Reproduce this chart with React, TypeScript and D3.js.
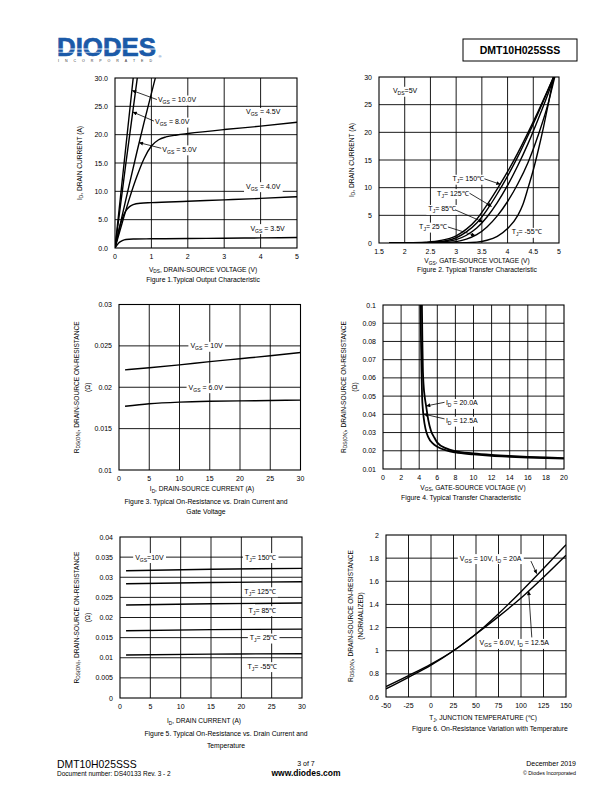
import React, { useLayoutEffect, useRef, useState } from "react";
import * as d3 from "d3";

// ---------- Figure 1: I_D vs V_DS ----------
const fig1XTicks = [0, 1, 2, 3, 4, 5];
const fig1YTicks = [0, 5, 10, 15, 20, 25, 30];
const fig1Vgs10 = [[0, 0], [0.1, 6], [0.2, 12], [0.3, 18], [0.4, 24], [0.5, 30]];
const fig1Vgs8 = [[0, 0], [0.1, 5], [0.2, 10], [0.3, 15], [0.4, 19.8], [0.5, 24.6], [0.6, 29.4], [0.62, 30.4]];
const fig1Vgs5 = [[0, 0], [0.2, 5.8], [0.4, 11.4], [0.6, 16.9], [0.8, 22.2], [1.0, 27.3], [1.1, 29.8], [1.12, 30.3]];
const fig1Vgs45 = [[0, 0], [0.2, 4.5], [0.4, 8.8], [0.6, 12.6], [0.8, 15.8], [1.0, 18.0], [1.2, 19.1], [1.4, 19.6], [1.7, 19.95], [2, 20.2], [3, 20.9], [4, 21.5], [5, 22.2]];
const fig1Vgs4 = [[0, 0], [0.1, 3], [0.2, 5.2], [0.3, 6.6], [0.4, 7.3], [0.5, 7.65], [0.7, 7.9], [1, 8.0], [2, 8.25], [3, 8.5], [4, 8.75], [5, 9.05]];
const fig1Vgs35 = [[0, 0], [0.1, 0.9], [0.2, 1.3], [0.3, 1.5], [0.5, 1.58], [1, 1.62], [2, 1.67], [3, 1.72], [4, 1.78], [5, 1.85]];

// ---------- Figure 2: I_D vs V_GS ----------
const fig2XTicks = [1.5, 2, 2.5, 3, 3.5, 4, 4.5, 5];
const fig2YTicks = [0, 5, 10, 15, 20, 25, 30];
const fig2T150 = [[1.7, 0], [2.0, 0.03], [2.4, 0.15], [2.7, 0.45], [3.0, 1.3], [3.2, 2.5], [3.4, 4.3], [3.6, 6.9], [3.8, 9.8], [4.0, 12.9], [4.2, 16.3], [4.4, 20.0], [4.6, 23.9], [4.8, 28.0], [4.9, 30.1]];
const fig2T125 = [[1.7, 0], [2.1, 0.02], [2.5, 0.12], [2.8, 0.4], [3.0, 0.95], [3.2, 2.0], [3.4, 3.6], [3.6, 6.0], [3.8, 8.9], [4.0, 12.1], [4.2, 15.6], [4.4, 19.5], [4.6, 23.6], [4.8, 27.9], [4.9, 30.1]];
const fig2T85 = [[1.7, 0], [2.3, 0.02], [2.7, 0.15], [3.0, 0.6], [3.2, 1.4], [3.4, 2.7], [3.6, 4.7], [3.8, 7.3], [4.0, 10.4], [4.2, 14.0], [4.4, 18.0], [4.6, 22.5], [4.8, 27.3], [4.9, 29.9]];
const fig2T25 = [[1.7, 0], [2.6, 0.02], [3.0, 0.25], [3.2, 0.7], [3.4, 1.5], [3.6, 2.9], [3.8, 4.9], [4.0, 7.5], [4.2, 10.7], [4.4, 14.6], [4.6, 19.6], [4.8, 25.6], [4.88, 28.6], [4.92, 30.1]];
const fig2Tm55 = [[1.7, 0], [3.0, 0.01], [3.4, 0.15], [3.6, 0.5], [3.8, 1.2], [4.0, 2.6], [4.2, 5.0], [4.3, 7.0], [4.4, 10.0], [4.5, 13.2], [4.6, 16.9], [4.7, 21.0], [4.8, 25.5], [4.9, 30.3]];

// ---------- Figure 3: R_DS(on) vs I_D ----------
const fig3XTicks = [0, 5, 10, 15, 20, 25, 30];
const fig3YTicks = [0.01, 0.015, 0.02, 0.025, 0.03];
const fig3Id = [1, 5, 10, 15, 20, 25, 30];
const fig3Vgs10 = [0.0221, 0.02235, 0.0227, 0.0231, 0.02345, 0.0238, 0.0242];
const fig3Vgs6 = [0.0177, 0.018, 0.0182, 0.0183, 0.01835, 0.0184, 0.01845];

// ---------- Figure 4: R_DS(on) vs V_GS ----------
const fig4XTicks = [0, 2, 4, 6, 8, 10, 12, 14, 16, 18, 20];
const fig4YTicks = [0.01, 0.02, 0.03, 0.04, 0.05, 0.06, 0.07, 0.08, 0.09, 0.1];
const fig4Id20 = [[4.3, 0.1], [4.35, 0.08], [4.4, 0.066], [4.5, 0.055], [4.6, 0.05], [4.75, 0.045], [5, 0.037], [5.3, 0.031], [5.7, 0.027], [6, 0.0245], [7, 0.0213], [8, 0.0198], [10, 0.0186], [12, 0.0178], [14, 0.0172], [16, 0.0167], [18, 0.0163], [20, 0.016]];
const fig4Id125 = [[4.15, 0.1], [4.2, 0.08], [4.26, 0.063], [4.32, 0.05], [4.4, 0.043], [4.5, 0.038], [4.7, 0.032], [5, 0.0275], [5.5, 0.024], [6, 0.0222], [7, 0.0202], [8, 0.0191], [10, 0.018], [12, 0.0172], [14, 0.0167], [16, 0.0163], [18, 0.016], [20, 0.0157]];

// ---------- Figure 5: R_DS(on) vs I_D over temperature ----------
const fig5XTicks = [0, 5, 10, 15, 20, 25, 30];
const fig5YTicks = [0, 0.005, 0.01, 0.015, 0.02, 0.025, 0.03, 0.035, 0.04];
const fig5Id = [1, 15, 30];
const fig5T150 = [0.0316, 0.032, 0.0322];
const fig5T125 = [0.0284, 0.0287, 0.0289];
const fig5T85 = [0.0231, 0.0234, 0.0236];
const fig5T25 = [0.0167, 0.017, 0.0171];
const fig5Tm55 = [0.0107, 0.0109, 0.011];

// ---------- Figure 6: normalized R_DS(on) vs T_J ----------
const fig6XTicks = [-50, -25, 0, 25, 50, 75, 100, 125, 150];
const fig6YTicks = [0.6, 0.8, 1, 1.2, 1.4, 1.6, 1.8, 2];
const fig6Tj = [-50, -25, 0, 25, 50, 75, 100, 125, 150];
const fig6Vgs10 = [0.67, 0.77, 0.875, 1.0, 1.145, 1.32, 1.51, 1.71, 1.915];
const fig6Vgs6 = [0.69, 0.785, 0.885, 1.0, 1.145, 1.295, 1.455, 1.635, 1.825];

const FONT = "'Liberation Sans', Arial, Helvetica, sans-serif";
const zip = (xs: number[], ys: number[]) => xs.map((x, i) => [x, ys[i]]);

// "V_{GS} = 10V" -> text with subscript tspans
function rich(text: string, fs: number) {
  const parts = text.split(/(_\{[^}]*\})/).filter(Boolean);
  let shifted = false;
  return parts.map((p, i) => {
    if (p.startsWith("_{")) {
      shifted = true;
      return (
        <tspan key={i} fontSize={fs * 0.72} dy={fs * 0.28}>
          {p.slice(2, -1)}
        </tspan>
      );
    }
    const dy = shifted ? -fs * 0.28 : 0;
    shifted = false;
    return (
      <tspan key={i} dy={dy}>
        {p}
      </tspan>
    );
  });
}

function Label({ x, y, text, fs = 7, bg = true }: any) {
  const ref = useRef<SVGTextElement>(null);
  const [box, setBox] = useState<any>(null);
  useLayoutEffect(() => {
    if (bg && ref.current) {
      const b = ref.current.getBBox();
      setBox({ x: b.x - 2, y: b.y - 0.5, w: b.width + 4, h: b.height + 1 });
    }
  }, [x, y, text, fs, bg]);
  return (
    <g>
      {bg && box && <rect x={box.x} y={box.y} width={box.w} height={box.h} fill="#fff" />}
      <text ref={ref} x={x} y={y + fs * 0.35} fontSize={fs} fontFamily={FONT} fill="#000">
        {rich(text, fs)}
      </text>
    </g>
  );
}

function Chart({ cfg, id }: any) {
  const { box, xDomain, yDomain, xTicks, yTicks, yFmt, series, labels } = cfg;
  const xs = d3.scaleLinear().domain(xDomain).range([box.x, box.x + box.w]);
  const ys = d3.scaleLinear().domain(yDomain).range([box.y + box.h, box.y]);
  const line = d3
    .line<number[]>()
    .x((d) => xs(d[0]))
    .y((d) => ys(d[1]))
    .curve(d3.curveMonotoneX);
  const clip = "clip-" + id;
  const inner = (t: number[]) => t.slice(1, -1);
  const cy = box.y + box.h / 2;
  return (
    <g>
      <defs>
        <clipPath id={clip}>
          <rect x={box.x} y={box.y} width={box.w} height={box.h} />
        </clipPath>
      </defs>
      <rect x={box.x} y={box.y} width={box.w} height={box.h} fill="#fff" />
      {inner(xTicks).map((t: number) => (
        <line key={"gx" + t} x1={xs(t)} x2={xs(t)} y1={box.y} y2={box.y + box.h} stroke="#000" strokeWidth={0.9} />
      ))}
      {inner(yTicks).map((t: number) => (
        <line key={"gy" + t} x1={box.x} x2={box.x + box.w} y1={ys(t)} y2={ys(t)} stroke="#000" strokeWidth={0.9} />
      ))}
      {labels.map((l: any, i: number) => (
        <Label key={"l" + i} x={xs(l.x)} y={ys(l.y)} text={l.text} bg={l.bg !== false} />
      ))}
      <g clipPath={`url(#${clip})`}>
        {series.map((s: number[][], i: number) => (
          <path key={"s" + i} d={line(s) || ""} fill="none" stroke="#000" strokeWidth={cfg.lw || 1.4} />
        ))}
      </g>
      {labels
        .filter((l: any) => l.arrow)
        .map((l: any, i: number) => (
          <line
            key={"a" + i}
            x1={xs(l.arrow[0])}
            y1={ys(l.arrow[1])}
            x2={xs(l.arrow[2])}
            y2={ys(l.arrow[3])}
            stroke="#000"
            strokeWidth={0.8}
            markerEnd="url(#arrowhead)"
          />
        ))}
      <rect x={box.x} y={box.y} width={box.w} height={box.h} fill="none" stroke="#000" strokeWidth={1.1} />
      {xTicks.map((t: number) => (
        <text key={"tx" + t} x={xs(t)} y={box.y + box.h + 11} fontSize={7} fontFamily={FONT} textAnchor="middle">
          {String(t)}
        </text>
      ))}
      {yTicks.map((t: number) => (
        <text key={"ty" + t} x={box.x - 7} y={ys(t) + 2.5} fontSize={7} fontFamily={FONT} textAnchor="end">
          {yFmt ? yFmt(t) : String(t)}
        </text>
      ))}
      {cfg.yTitle.map((s: string, i: number) => (
        <text
          key={"yt" + i}
          transform={`translate(${cfg.yTitleX[i]},${cy}) rotate(-90)`}
          fontSize={6.6}
          fontFamily={FONT}
          textAnchor="middle"
          dominantBaseline="middle"
        >
          {rich(s, 6.6)}
        </text>
      ))}
      <text x={cfg.xTitlePos[0]} y={cfg.xTitlePos[1]} fontSize={6.6} fontFamily={FONT} textAnchor="middle">
        {rich(cfg.xTitle, 6.6)}
      </text>
      {cfg.caption.map((s: string, i: number) => (
        <text key={"c" + i} x={cfg.captionX} y={cfg.captionY[i]} fontSize={6.8} fontFamily={FONT} textAnchor="middle">
          {s}
        </text>
      ))}
    </g>
  );
}

const RDS = "R_{DS(ON)}, DRAIN-SOURCE ON-RESISTANCE";

const charts = [
  {
    box: { x: 115, y: 78, w: 182, h: 170 },
    xDomain: [0, 5], yDomain: [0, 30], xTicks: fig1XTicks, yTicks: fig1YTicks,
    yFmt: d3.format(".1f"),
    series: [fig1Vgs10, fig1Vgs8, fig1Vgs5, fig1Vgs45, fig1Vgs4, fig1Vgs35],
    labels: [
      { text: "V_{GS} = 10.0V", x: 1.18, y: 26.2, arrow: [1.15, 26.2, 0.47, 27.8] },
      { text: "V_{GS} = 8.0V", x: 1.1, y: 22.3, arrow: [1.07, 22.4, 0.49, 24.0] },
      { text: "V_{GS} = 5.0V", x: 1.3, y: 17.4, arrow: [1.27, 17.6, 0.66, 18.6] },
      { text: "V_{GS} = 4.5V", x: 3.6, y: 24.0 },
      { text: "V_{GS} = 4.0V", x: 3.6, y: 10.9 },
      { text: "V_{GS} = 3.5V", x: 3.72, y: 3.5 },
    ],
    yTitle: ["I_{D}, DRAIN CURRENT (A)"], yTitleX: [80],
    xTitle: "V_{DS}, DRAIN-SOURCE VOLTAGE (V)", xTitlePos: [203, 271.5],
    caption: ["Figure 1.Typical Output Characteristic"], captionX: 203, captionY: [281.5],
  },
  {
    box: { x: 379, y: 77, w: 180, h: 166 },
    xDomain: [1.5, 5], yDomain: [0, 30], xTicks: fig2XTicks, yTicks: fig2YTicks,
    series: [fig2T150, fig2T125, fig2T85, fig2T25, fig2Tm55],
    labels: [
      { text: "V_{DS}=5V", x: 1.77, y: 27.5 },
      { text: "T_{J}= 150℃", x: 2.93, y: 11.6, arrow: [3.55, 11.6, 3.86, 10.6] },
      { text: "T_{J}= 125℃", x: 2.63, y: 9.0, arrow: [3.26, 9.0, 3.69, 6.6] },
      { text: "T_{J}= 85℃", x: 2.46, y: 6.15, arrow: [2.98, 6.0, 3.52, 3.8] },
      { text: "T_{J}= 25℃", x: 2.28, y: 2.95, arrow: [2.84, 2.9, 3.37, 1.35] },
      { text: "T_{J}= -55℃", x: 4.08, y: 2.0 },
    ],
    yTitle: ["I_{D}, DRAIN CURRENT (A)"], yTitleX: [352],
    xTitle: "V_{GS}, GATE-SOURCE VOLTAGE (V)", xTitlePos: [477, 263],
    caption: ["Figure 2. Typical Transfer Characteristic"], captionX: 477, captionY: [271.5],
  },
  {
    box: { x: 119, y: 304.5, w: 181.5, h: 165.5 },
    xDomain: [0, 30], yDomain: [0.01, 0.03], xTicks: fig3XTicks, yTicks: fig3YTicks,
    series: [zip(fig3Id, fig3Vgs10), zip(fig3Id, fig3Vgs6)],
    labels: [
      { text: "V_{GS} = 10V", x: 11.8, y: 0.025 },
      { text: "V_{GS} = 6.0V", x: 11.5, y: 0.02 },
    ],
    yTitle: [RDS, "(Ω)"], yTitleX: [77, 88],
    xTitle: "I_{D}, DRAIN-SOURCE CURRENT (A)", xTitlePos: [202, 491],
    caption: ["Figure 3. Typical On-Resistance vs. Drain Current and", "Gate Voltage"], captionX: 206, captionY: [503.5, 514],
  },
  {
    box: { x: 383, y: 305, w: 181, h: 164 },
    xDomain: [0, 20], yDomain: [0.01, 0.1], xTicks: fig4XTicks, yTicks: fig4YTicks,
    lw: 1.8,
    series: [fig4Id20, fig4Id125],
    labels: [
      { text: "I_{D} = 20.0A", x: 6.95, y: 0.0462, arrow: [6.8, 0.0466, 4.78, 0.0446] },
      { text: "I_{D} = 12.5A", x: 6.95, y: 0.0365, arrow: [6.8, 0.0375, 4.47, 0.0402] },
    ],
    yTitle: [RDS, "(Ω)"], yTitleX: [344, 355],
    xTitle: "V_{GS}, GATE-SOURCE VOLTAGE (V)", xTitlePos: [473, 489.5],
    caption: ["Figure 4. Typical Transfer Characteristic"], captionX: 461, captionY: [500],
  },
  {
    box: { x: 120, y: 537, w: 182, h: 161 },
    xDomain: [0, 30], yDomain: [0, 0.04], xTicks: fig5XTicks, yTicks: fig5YTicks,
    series: [zip(fig5Id, fig5T150), zip(fig5Id, fig5T125), zip(fig5Id, fig5T85), zip(fig5Id, fig5T25), zip(fig5Id, fig5Tm55)],
    labels: [
      { text: "V_{GS}=10V", x: 2.5, y: 0.035 },
      { text: "T_{J}= 150℃", x: 20.6, y: 0.035 },
      { text: "T_{J}= 125℃", x: 20.5, y: 0.0265 },
      { text: "T_{J}= 85℃", x: 21.2, y: 0.0218 },
      { text: "T_{J}= 25℃", x: 21.4, y: 0.015 },
      { text: "T_{J}= -55℃", x: 21.0, y: 0.0079 },
    ],
    yTitle: [RDS, "(Ω)"], yTitleX: [77, 88],
    xTitle: "I_{D}, DRAIN CURRENT (A)", xTitlePos: [204, 723],
    caption: ["Figure 5. Typical On-Resistance vs. Drain Current and", "Temperature"], captionX: 226, captionY: [736, 747.5],
  },
  {
    box: { x: 386, y: 535, w: 180, h: 162 },
    xDomain: [-50, 150], yDomain: [0.6, 2], xTicks: fig6XTicks, yTicks: fig6YTicks,
    series: [zip(fig6Tj, fig6Vgs10), zip(fig6Tj, fig6Vgs6)],
    labels: [
      { text: "V_{GS} = 10V, I_{D} = 20A", x: 32, y: 1.8, arrow: [111, 1.775, 117.5, 1.665] },
      { text: "V_{GS} = 6.0V, I_{D} = 12.5A", x: 54, y: 1.067, arrow: [112, 1.115, 108.5, 1.515] },
    ],
    yTitle: [RDS, "(NORMALIZED)"], yTitleX: [351, 361],
    xTitle: "T_{J}, JUNCTION TEMPERATURE (℃)", xTitlePos: [483, 720],
    caption: ["Figure 6. On-Resistance Variation with Temperature"], captionX: 490, captionY: [730.5],
  },
];

export default function App() {
  return (
    <svg width={612} height={792} style={{ position: "absolute", left: 0, top: 0, background: "#fff" }}>
      <defs>
        <marker id="arrowhead" viewBox="0 0 10 10" refX={10} refY={5} markerUnits="userSpaceOnUse" markerWidth={5} markerHeight={4} orient="auto">
          <path d="M0,0 L10,5 L0,10 z" fill="#000" />
        </marker>
      </defs>
      <rect x={0} y={0} width={612} height={792} fill="#fff" />

      {/* header */}
      <text x={57} y={56} fontSize={26} fontWeight="bold" fontFamily={FONT} fill="#1b5aa8" stroke="#1b5aa8" strokeWidth={0.7} textLength={99} lengthAdjust="spacingAndGlyphs">
        DIODES
      </text>
      <line x1={56} x2={157} y1={49} y2={49} stroke="#fff" strokeWidth={0.9} />
      <line x1={56} x2={100} y1={52.3} y2={52.3} stroke="#fff" strokeWidth={0.6} />
      <text x={158.5} y={58} fontSize={4} fontFamily={FONT} fill="#1b5aa8">®</text>
      <text x={58} y={61.5} fontSize={3.6} fontFamily={FONT} fill="#333" textLength={94} lengthAdjust="spacing">
        INCORPORATED
      </text>
      <rect x={463} y={39} width={114} height={22} fill="none" stroke="#000" strokeWidth={1} />
      <text x={520} y={54} fontSize={10.5} fontWeight="bold" fontFamily={FONT} textAnchor="middle">
        DMT10H025SSS
      </text>

      {charts.map((c, i) => (
        <Chart key={i} id={i} cfg={c} />
      ))}

      {/* footer */}
      <text x={57} y={767.5} fontSize={10.4} fontFamily={FONT}>DMT10H025SSS</text>
      <text x={57} y={776} fontSize={6.5} fontFamily={FONT}>Document number: DS40133 Rev. 3 - 2</text>
      <text x={306} y={765.5} fontSize={7} fontFamily={FONT} textAnchor="middle">3 of 7</text>
      <text x={306} y={776} fontSize={8.5} fontWeight="bold" fontFamily={FONT} textAnchor="middle">www.diodes.com</text>
      <text x={576} y={765.5} fontSize={7} fontFamily={FONT} textAnchor="end">December 2019</text>
      <text x={576} y={774.5} fontSize={5.3} fontFamily={FONT} textAnchor="end">© Diodes Incorporated</text>
    </svg>
  );
}
